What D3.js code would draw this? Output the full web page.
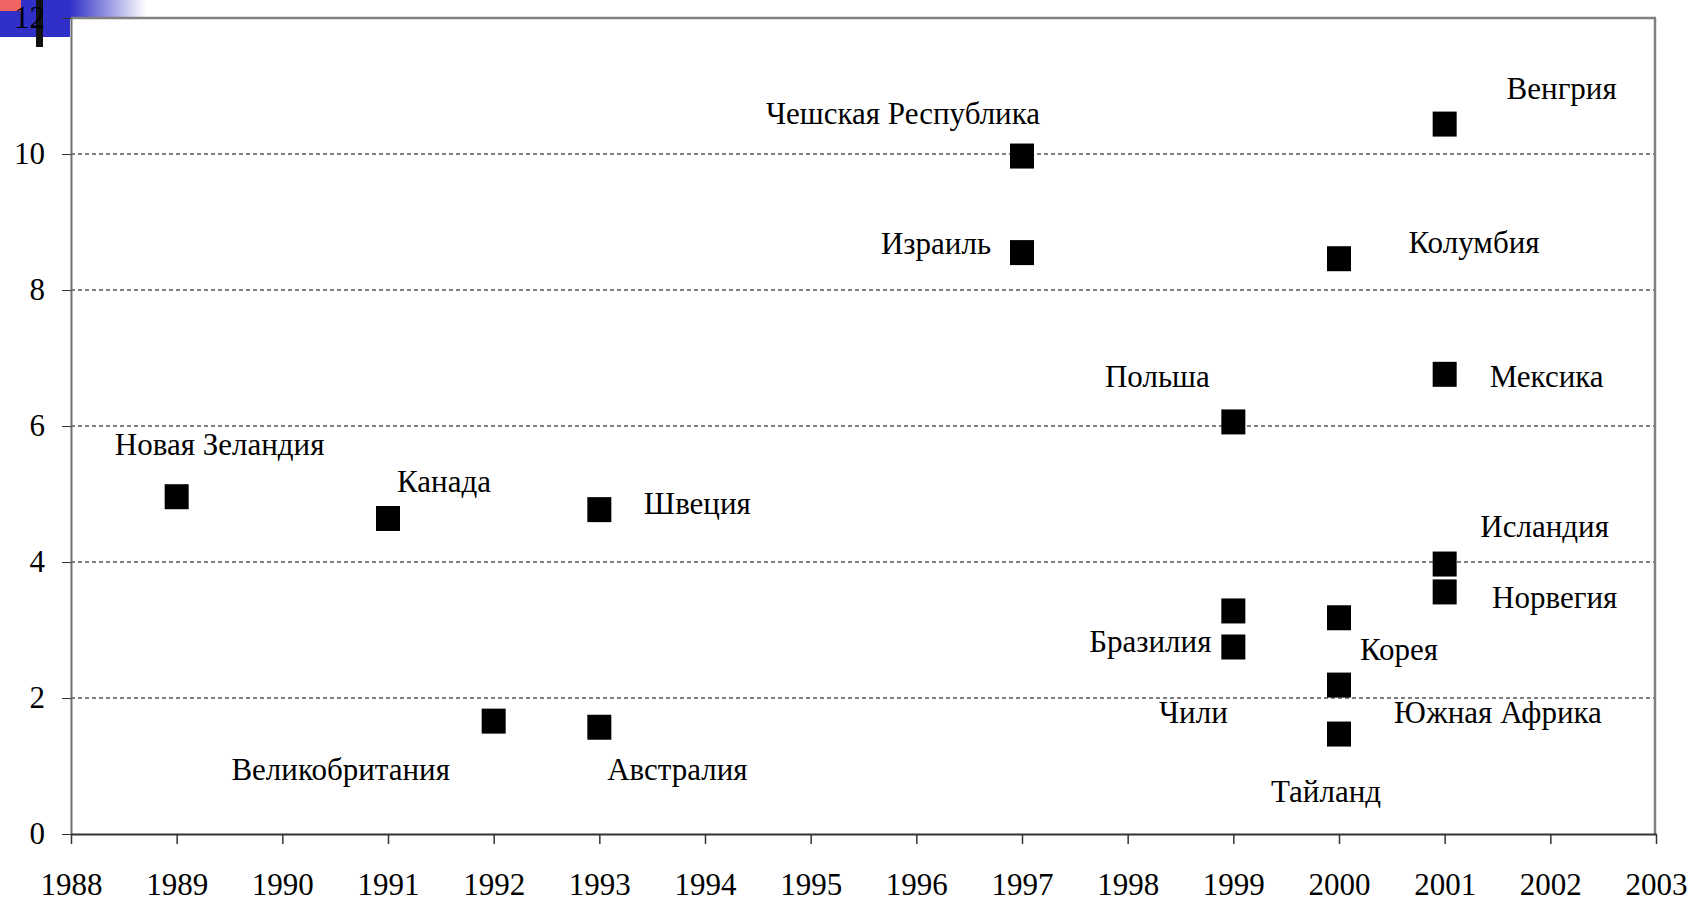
<!DOCTYPE html>
<html>
<head>
<meta charset="utf-8">
<style>
     body {
          margin: 0;
          background: white;
     }
     .axis text {
          font-family: "Liberation Serif", "DejaVu Serif", serif;
          font-size: 31px;
          fill: black;
     }
     .grid line {
          stroke: black;
          stroke-width: 1;
          stroke-dasharray: 4,3;
     }
     .label {
          font-family: "Liberation Serif", "DejaVu Serif", serif;
          font-size: 31px;
          text-anchor: middle;
          fill: black;
     }
     .point {
          fill: black;
     }
</style>
</head>
<body>
<script src="https://d3js.org/d3.v7.min.js"></script>
<script>

     // data
     var countries = ["Новая Зеландия", "Канада", "Великобритания", "Швеция", "Австралия",
          "Чешская Республика", "Израиль", "Польша", "Бразилия", "Чили",
          "Колумбия", "Корея", "Южная Африка", "Тайланд",
          "Венгрия", "Мексика", "Исландия", "Норвегия"];
     var years = [1989, 1991, 1992, 1993, 1993,
          1997, 1997, 1999, 1999, 1999,
          2000, 2000, 2000, 2000,
          2001, 2001, 2001, 2001];
     var values = [4.96, 4.64, 1.66, 4.77, 1.57,
          9.97, 8.55, 6.06, 3.28, 2.75,
          8.46, 3.18, 2.19, 1.47,
          10.44, 6.76, 3.97, 3.56];

     var xTicks = [1988, 1989, 1990, 1991, 1992, 1993, 1994, 1995, 1996, 1997, 1998, 1999, 2000, 2001, 2002, 2003];
     var yTicks = [0, 2, 4, 6, 8, 10, 12];
     var gridTicks = [2, 4, 6, 8, 10];

     // where each label sits relative to its square (px)
     var labelOffsets = [[43, -42], [56, -26], [-153, 59], [98, 4], [78, 53],
          [-119, -32], [-86, 1], [-76, -35], [-83, 41], [-40, 76],
          [135, -6], [60, 42], [159, 38], [-13, 68],
          [117, -25], [102, 13], [100, -27], [110, 16]];

     var W = 1692, H = 902;
     var plotLeft = 71, plotRight = 1656, plotTop = 18, plotBottom = 834;

     var points = countries.map(function(c, i) {
          return {name: c, year: years[i], value: values[i], off: labelOffsets[i]};
     });

     var x = d3.scaleLinear().domain([1988, 2003]).range([plotLeft, plotRight]);
     var y = d3.scaleLinear().domain([0, 12]).range([plotBottom, plotTop]);

     var svg = d3.select("body").append("svg")
          .attr("width", W)
          .attr("height", H);

     // slide decoration in the corner
     var grad = svg.append("defs").append("linearGradient")
          .attr("id", "fade");
     grad.append("stop").attr("offset", "0%").attr("stop-color", "#3030c8");
     grad.append("stop").attr("offset", "100%").attr("stop-color", "#ffffff");
     svg.append("rect").attr("x", 70).attr("y", 0).attr("width", 76).attr("height", 18)
          .attr("fill", "url(#fade)");
     svg.append("rect").attr("x", 0).attr("y", 0).attr("width", 70).attr("height", 37)
          .attr("fill", "#3030c8");
     svg.append("rect").attr("x", 0).attr("y", 0).attr("width", 21).attr("height", 11)
          .attr("fill", "#f06464");
     svg.append("rect").attr("x", 36).attr("y", 0).attr("width", 7).attr("height", 47)
          .attr("fill", "#111");

     // grid
     svg.append("g")
          .attr("class", "grid")
          .selectAll("line").data(gridTicks)
       .enter().append("line")
          .attr("x1", plotLeft).attr("x2", plotRight)
          .attr("y1", function(d) { return y(d); })
          .attr("y2", function(d) { return y(d); });

     // frame: top and right
     svg.append("line")
          .attr("x1", plotLeft).attr("x2", plotRight).attr("y1", y(12)).attr("y2", y(12))
          .attr("stroke", "#808080").attr("stroke-width", 2.5);
     svg.append("line")
          .attr("x1", plotRight - 1).attr("x2", plotRight - 1).attr("y1", y(12)).attr("y2", plotBottom)
          .attr("stroke", "#808080").attr("stroke-width", 2.5);

     var xAxis = d3.axisBottom(x)
          .tickValues(xTicks)
          .tickFormat(d3.format("d"))
          .tickSize(10)
          .tickSizeOuter(0)
          .tickPadding(29);

     var yAxis = d3.axisLeft(y)
          .tickValues(yTicks)
          .tickSize(9)
          .tickSizeOuter(0)
          .tickPadding(17);

     var gy = svg.append("g")
          .attr("class", "y axis")
          .attr("transform", "translate(" + plotLeft + ",0)")
          .call(yAxis);
     gy.attr("font-family", null).attr("font-size", null);
     gy.select(".domain").attr("stroke", "#707070").attr("stroke-width", 2);
     gy.selectAll(".tick line").attr("stroke", "#333");

     var gx = svg.append("g")
          .attr("class", "x axis")
          .attr("transform", "translate(0," + plotBottom + ")")
          .call(xAxis);
     gx.attr("font-family", null).attr("font-size", null);
     gx.select(".domain").attr("stroke", "#333").attr("stroke-width", 2);
     gx.selectAll(".tick line").attr("stroke", "#333").attr("stroke-width", 1.5);
     gx.selectAll(".tick text").attr("dy", "0.71em");

     // points
     svg.append("g").selectAll("rect").data(points)
       .enter().append("rect")
          .attr("class", "point")
          .attr("x", function(d) { return x(d.year) - 12; })
          .attr("y", function(d) { return y(d.value) - 12.5; })
          .attr("width", 24)
          .attr("height", 25);

     svg.append("g").selectAll("text").data(points)
       .enter().append("text")
          .attr("class", "label")
          .attr("x", function(d) { return x(d.year) + d.off[0]; })
          .attr("y", function(d) { return y(d.value) + d.off[1]; })
          .text(function(d) { return d.name; });

</script>
</body>
</html>
